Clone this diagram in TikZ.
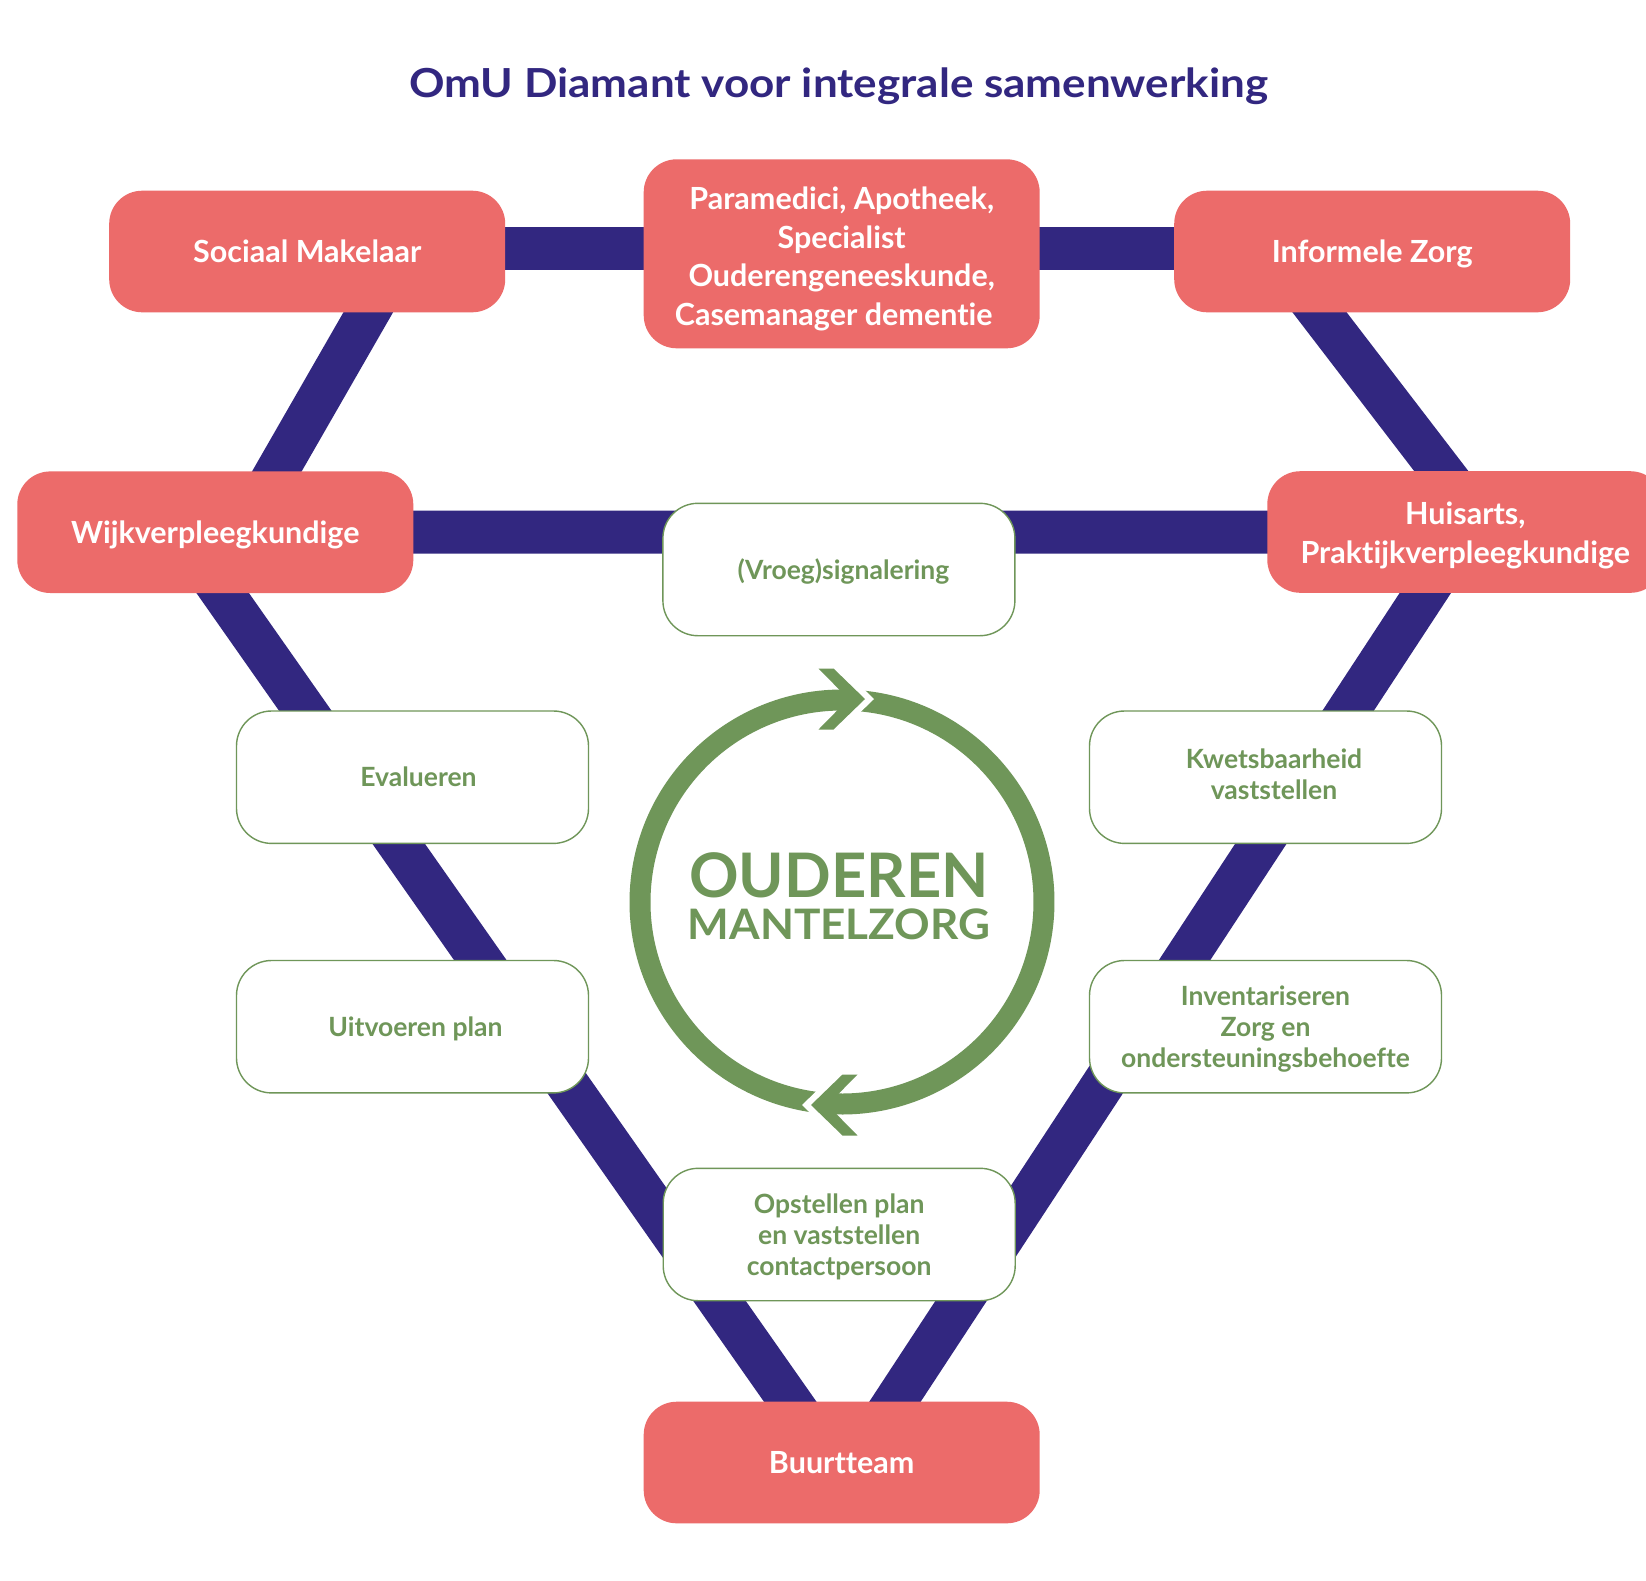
\documentclass[tikz,border=0pt]{standalone}
\usepackage{fontspec}
\setmainfont{Lato}[Ligatures=NoCommon]
\usetikzlibrary{calc}
\definecolor{omured}{RGB}{236,107,106}
\definecolor{omupurple}{RGB}{50,39,128}
\definecolor{omugreen}{RGB}{111,150,89}
\pgfdeclarelayer{bgzero}
\pgfdeclarelayer{bglinks}
\pgfsetlayers{bgzero,bglinks,main}
\begin{document}
\begin{tikzpicture}[x=1pt,y=-1pt,
  redbox/.style={fill=omured, rounded corners=33pt, minimum width=396pt,
    minimum height=121.6pt, inner sep=0pt, text=white,
    font=\fontsize{30.5}{38.5}\selectfont\bfseries, align=center},
  redtext/.style={inner sep=0pt, text=white,
    font=\fontsize{30.5}{38.5}\selectfont\bfseries, align=center},
  whitebox/.style={fill=white, draw=omugreen, line width=1.4pt, rounded corners=35pt,
    minimum width=352pt, minimum height=132.4pt, inner sep=0pt, text=omugreen,
    font=\fontsize{26.5}{31}\selectfont\bfseries, align=center},
  greentext/.style={inner sep=0pt, text=omugreen,
    font=\fontsize{26.5}{31}\selectfont\bfseries, align=center},
  oneline/.style={text height=#1, text depth=0pt},
  link/.style={draw=omupurple, line width=43pt},
  ring/.style={draw=omugreen, line width=21pt},
  chev/.style={fill=omugreen},
  gapchev/.style={fill=white}
]
\useasboundingbox (0,0) rectangle (1646,1580);
\begin{pgfonlayer}{bgzero}
  \fill[white] (0,0) rectangle (1646,1580);
\end{pgfonlayer}

% title
\node[text=omupurple, font=\fontsize{40}{48}\selectfont\bfseries\addfontfeature{FakeStretch=1.1},
  oneline=28.7pt, inner sep=0pt]
  (title) at (839,83.5) {OmU Diamant voor integrale samenwerking};

% red boxes
\node[redbox, oneline=21.9pt] (sm) at (307.2,251.5) {Sociaal Makelaar};
\node[redbox, minimum height=189pt] (pa) at (841.7,253.8) {};
\node[redtext] (pat) at ([yshift=-5pt]pa.center)
  {Paramedici, Apotheek,\\ Specialist\\ Ouderengeneeskunde,\\ Casemanager dementie\hspace*{16pt}};
\node[redbox, oneline=21.9pt] (iz) at (1372.2,251.5) {Informele Zorg};
\node[redbox, oneline=21.9pt] (wv) at (215.3,532.2) {Wijkverpleegkundige};
\node[redbox] (ha) at (1465.3,532) {};
\node[redtext] (hat) at ([yshift=-3.5pt]ha.center) {Huisarts,\\ Praktijkverpleegkundige};
\node[redbox, oneline=21.9pt] (bt) at (841.7,1462.5) {Buurtteam};

% white boxes
\node[whitebox, oneline=19pt] (vs) at (838.9,569.5) {\hspace*{9pt}(Vroeg)signalering};
\node[whitebox, oneline=19pt] (ev) at (412.5,777.2) {\hspace*{12pt}Evalueren};
\node[whitebox, oneline=19pt] (up) at (412.5,1026.7) {\hspace*{6pt}Uitvoeren plan};
\node[whitebox] (kv) at (1265.5,777.2) {};
\node[greentext] (kvt) at ([yshift=3pt]kv.center)
  {\hspace*{17pt}Kwetsbaarheid\\ \hspace*{17pt}vaststellen};
\node[whitebox] (iv) at (1265.5,1026.7) {};
\node[greentext] (ivt) at ([yshift=-2.5pt]iv.center)
  {Inventariseren\\ Zorg en\\ ondersteuningsbehoefte};
\node[whitebox] (op) at (839.2,1234.5) {};
\node[greentext] (opt) at ([yshift=-2.5pt]op.center)
  {Opstellen plan\\ en vaststellen\\ contactpersoon};

% connectors
\begin{pgfonlayer}{bglinks}
  \draw[link] ([yshift=3.2pt]sm.center) -- ([yshift=3.2pt]iz.center);
  \draw[link] (wv.center) -- (ha.center);
  \draw[link] ([xshift=96pt]sm.center) -- ([xshift=26.6pt]wv.center);
  \draw[link] ([xshift=-99.3pt]iz.center) -- ([xshift=22.7pt]ha.center);
  \draw[link] ([xshift=-35.3pt]wv.center) -- ([xshift=-8.8pt]bt.center);
  \draw[link] (ha.center) -- ([xshift=13.4pt]bt.center);
\end{pgfonlayer}

% cycle
\coordinate (cc) at (842,902);
\draw[ring] ([shift={(262.3:202pt)}]cc) arc[start angle=262.3, end angle=88, radius=202pt];
\draw[ring] ([shift={(86.3:202pt)}]cc) arc[start angle=86.3, end angle=-94.54, radius=202pt];
% top arrow head (pointing right)
\fill[gapchev] (874,699) -- (842.5,668.5) -- (827.5,668.5) -- (857.5,699) -- (827.5,729.5) -- (842.5,729.5) -- cycle;
\fill[chev] (865,699) -- (833.5,668.5) -- (818.5,668.5) -- (848.5,699) -- (818.5,729.5) -- (833.5,729.5) -- cycle;
% bottom arrow head (pointing left)
\fill[gapchev] (802,1105) -- (833.5,1074.5) -- (848.5,1074.5) -- (818.5,1105) -- (848.5,1135.5) -- (833.5,1135.5) -- cycle;
\fill[chev] (811,1105) -- (842.5,1074.5) -- (857.5,1074.5) -- (827.5,1105) -- (857.5,1135.5) -- (842.5,1135.5) -- cycle;

\node[text=omugreen, font=\fontsize{61.4}{70}\selectfont\bfseries, oneline=44pt, inner sep=0pt]
  (ouderen) at (839,875) {OUDEREN};
\node[text=omugreen, font=\fontsize{42}{48}\selectfont\bfseries\addfontfeature{FakeStretch=1.05},
  oneline=30pt, inner sep=0pt]
  (mantel) at (839,924.5) {MANTELZORG};
\end{tikzpicture}
\end{document}
